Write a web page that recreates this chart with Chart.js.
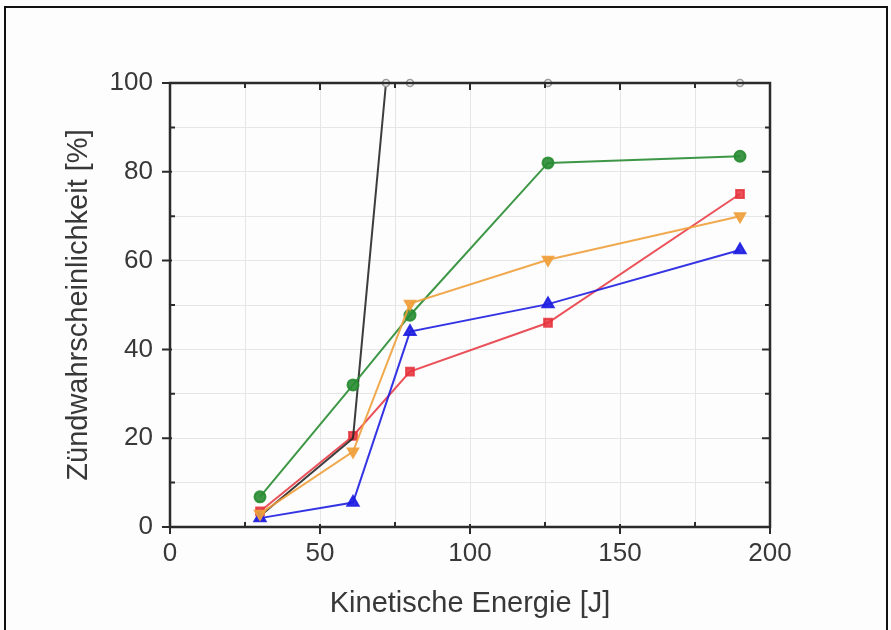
<!DOCTYPE html>
<html>
<head>
<meta charset="utf-8">
<script src="https://cdn.jsdelivr.net/npm/chart.js@4/dist/chart.umd.min.js"></script>
<style>
  html, body { margin: 0; padding: 0; background: #fdfdfd; }
  canvas { display: block; }
</style>
</head>
<body>
<canvas id="c" width="891" height="630"></canvas>
<script>
// ---- data ----
const xLabelTicks = [0, 50, 100, 150, 200];
const yLabelTicks = [0, 20, 40, 60, 80, 100];
const xTitle = 'Kinetische Energie [J]';
const yTitle = 'Zündwahrscheinlichkeit [%]';

const greenX  = [30, 61, 80, 126, 190];
const greenY  = [6.8, 32, 47.7, 82, 83.5];
const redX    = [30, 61, 80, 126, 190];
const redY    = [3.5, 20.5, 35, 46, 75];
const orangeX = [30, 61, 80, 126, 190];
const orangeY = [3, 17, 50.3, 60.2, 70];
const blueX   = [30, 61, 80, 126, 190];
const blueY   = [2, 5.5, 44, 50.2, 62.4];
const blackX  = [30, 61, 72, 80, 126, 190];
const blackY  = [2.5, 20, 100, 100, 100, 100];

const toPts = (xs, ys) => xs.map((x, i) => ({ x: x, y: ys[i] }));

const FONT = '"Liberation Sans", Arial, Helvetica, sans-serif';
const TXT = '#383838';

const framePlugin = {
  id: 'frame',
  afterDraw(chart) {
    const { ctx, chartArea: a, scales } = chart;
    const xs = scales.x, ys = scales.y;
    ctx.save();
    ctx.strokeStyle = '#2b2b2b';
    ctx.lineWidth = 2.5;
    ctx.strokeRect(a.left, a.top, a.right - a.left, a.bottom - a.top);
    ctx.lineWidth = 2;
    ctx.beginPath();
    for (let v = 0; v <= 200; v += 25) {
      const px = xs.getPixelForValue(v);
      const major = v % 50 === 0;
      const len = major ? 7 : 5;
      ctx.moveTo(px, a.bottom - (major ? 3 : 5));
      ctx.lineTo(px, a.bottom + (major ? 7 : 0));
      ctx.moveTo(px, a.top);
      ctx.lineTo(px, a.top + len);
    }
    for (let v = 0; v <= 100; v += 10) {
      const py = ys.getPixelForValue(v);
      const major = v % 20 === 0;
      ctx.moveTo(a.left - (major ? 8 : 0), py);
      ctx.lineTo(a.left + (major ? 2 : 5), py);
      ctx.moveTo(a.right, py);
      ctx.lineTo(a.right - (major ? 8 : 5), py);
    }
    ctx.stroke();
    ctx.fillStyle = TXT;
    ctx.font = '29px ' + FONT;
    ctx.textAlign = 'center';
    ctx.textBaseline = 'middle';
    ctx.fillText(xTitle, (a.left + a.right) / 2, 604);
    ctx.save();
    ctx.translate(79, (a.top + a.bottom) / 2);
    ctx.rotate(-Math.PI / 2);
    ctx.fillText(yTitle, 0, 0);
    ctx.restore();
    ctx.strokeStyle = '#111';
    ctx.lineWidth = 2;
    ctx.beginPath();
    ctx.moveTo(5, 640);
    ctx.lineTo(5, 7);
    ctx.lineTo(887, 7);
    ctx.lineTo(887, 640);
    ctx.stroke();
    ctx.restore();
  }
};

const ds = (label, data, color, style, radius, rot, extra) => Object.assign({
  label: label,
  data: data,
  borderColor: color,
  backgroundColor: color,
  pointBackgroundColor: color,
  pointBorderColor: color,
  pointStyle: style,
  pointRadius: radius,
  pointRotation: rot || 0,
  borderWidth: 2,
  tension: 0,
  clip: false
}, extra || {});

new Chart(document.getElementById('c'), {
  type: 'line',
  data: {
    datasets: [
      ds('orange', toPts(orangeX, orangeY), 'rgba(240,160,60,0.9)', 'triangle', 6, 180),
      ds('blue', toPts(blueX, blueY), 'rgba(30,30,225,0.9)', 'triangle', 6.5, 0),
      ds('green', toPts(greenX, greenY), 'rgba(40,140,50,0.9)', 'circle', 5.5, 0),
      ds('black', toPts(blackX, blackY), 'rgba(40,40,40,0.9)', 'circle', [0, 0, 3.5, 3.5, 3.5, 3.5], 0,
         { pointBackgroundColor: '#ffffff', pointBorderColor: '#9a9a9a', pointBorderWidth: 1.5 }),
      ds('red', toPts(redX, redY), 'rgba(230,50,60,0.85)', 'rect', 5.5, 0)
    ]
  },
  options: {
    responsive: false,
    animation: false,
    events: [],
    layout: { padding: { left: 0, top: 83, right: 121, bottom: 0 } },
    plugins: { legend: { display: false }, tooltip: { enabled: false }, title: { display: false } },
    scales: {
      x: {
        type: 'linear',
        min: 0, max: 200,
        afterFit(s) { s.height = 103; },
        grid: { color: '#e6e6e6', lineWidth: 1, drawTicks: false },
        border: { display: false },
        ticks: {
          stepSize: 25,
          padding: 11,
          color: TXT,
          font: { family: FONT, size: 26 },
          maxRotation: 0,
          autoSkip: false,
          callback: v => (xLabelTicks.includes(v) ? String(v) : '')
        }
      },
      y: {
        type: 'linear',
        min: 0, max: 100,
        afterFit(s) { s.width = 170; },
        grid: { color: '#e6e6e6', lineWidth: 1, drawTicks: false },
        border: { display: false },
        ticks: {
          stepSize: 10,
          padding: 17,
          color: TXT,
          font: { family: FONT, size: 26 },
          autoSkip: false,
          callback: v => (yLabelTicks.includes(v) ? String(v) : '')
        }
      }
    }
  },
  plugins: [framePlugin]
});
</script>
</body>
</html>
